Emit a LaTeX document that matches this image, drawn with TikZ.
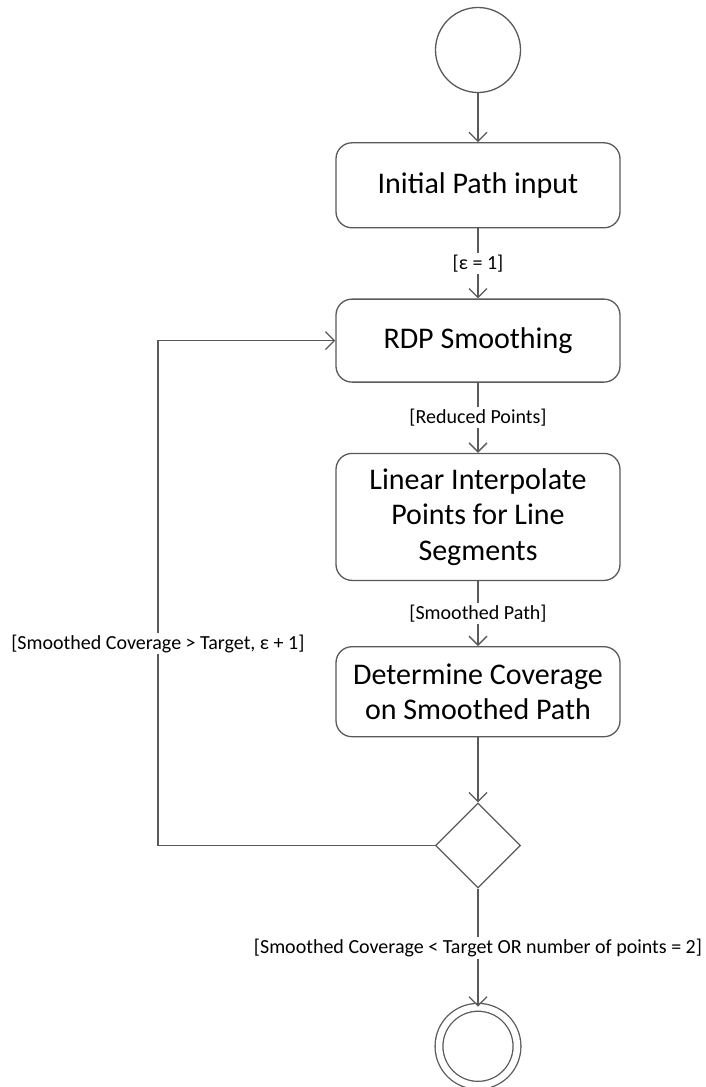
\documentclass[tikz,border=0pt]{standalone}
\usepackage{fontspec}
\setmainfont{Carlito}
\usepackage{tikz}
\usetikzlibrary{arrows.meta,positioning,shapes.geometric}
\definecolor{flowLine}{HTML}{595959}
\tikzset{
  actbox/.style={draw=flowLine, line width=1.3pt, rounded corners=16pt, align=center, minimum width=284pt, font=\fontsize{30}{35.5}\selectfont},
  startnode/.style={circle, draw=flowLine, line width=1.3pt, minimum size=85pt, inner sep=0pt},
  endnode/.style={circle, draw=flowLine, line width=1.3pt, double, double distance=6.5pt, minimum size=78pt, inner sep=0pt},
  decidenode/.style={diamond, draw=flowLine, line width=1.3pt, minimum width=85pt, minimum height=85pt, inner sep=0pt},
  flowarrow/.style={-{Straight Barb[length=9pt, width=18pt]}, draw=flowLine, line width=1.3pt},
  guard/.style={font=\fontsize{20}{24}\selectfont, fill=white, inner sep=2pt}
}
\begin{document}
\begin{tikzpicture}[x=1pt, y=-1pt]
    \useasboundingbox (0,0) rectangle (705,1087);

    \node[startnode] (start) at (478,50) {};
    \node[actbox, minimum height=85pt, below=49pt of start] (input)
      {Initial Path input};
    \node[actbox, minimum height=83pt, below=70pt of input] (rdp)
      {RDP Smoothing};
    \node[actbox, minimum height=127pt, below=70pt of rdp] (interp)
      {Linear Interpolate\\Points for Line\\Segments};
    \node[actbox, minimum height=90pt, below=65pt of interp] (coverage)
      {Determine Coverage\\on Smoothed Path};
    \node[decidenode, below=65pt of coverage] (decide) {};
    \node[endnode, below=118pt of decide] (finish) {};
    \coordinate[left=277pt of decide.west] (loopcorner);

    \draw[flowarrow] (start) -- (input);
    \draw[flowarrow] (input) -- node[guard]{[ε = 1]} (rdp);
    \draw[flowarrow] (rdp) -- node[guard]{[Reduced Points]} (interp);
    \draw[flowarrow] (interp) -- node[guard]{[Smoothed Path]} (coverage);
    \draw[flowarrow] (coverage) -- (decide);
    \draw[flowarrow] (decide.west) -- (loopcorner) |- node[guard, pos=0.2]{[Smoothed Coverage > Target, ε + 1]} (rdp.west);
    \draw[flowarrow] (decide) -- node[guard]{[Smoothed Coverage < Target OR number of points = 2]} (finish);
  \end{tikzpicture}
\end{document}
